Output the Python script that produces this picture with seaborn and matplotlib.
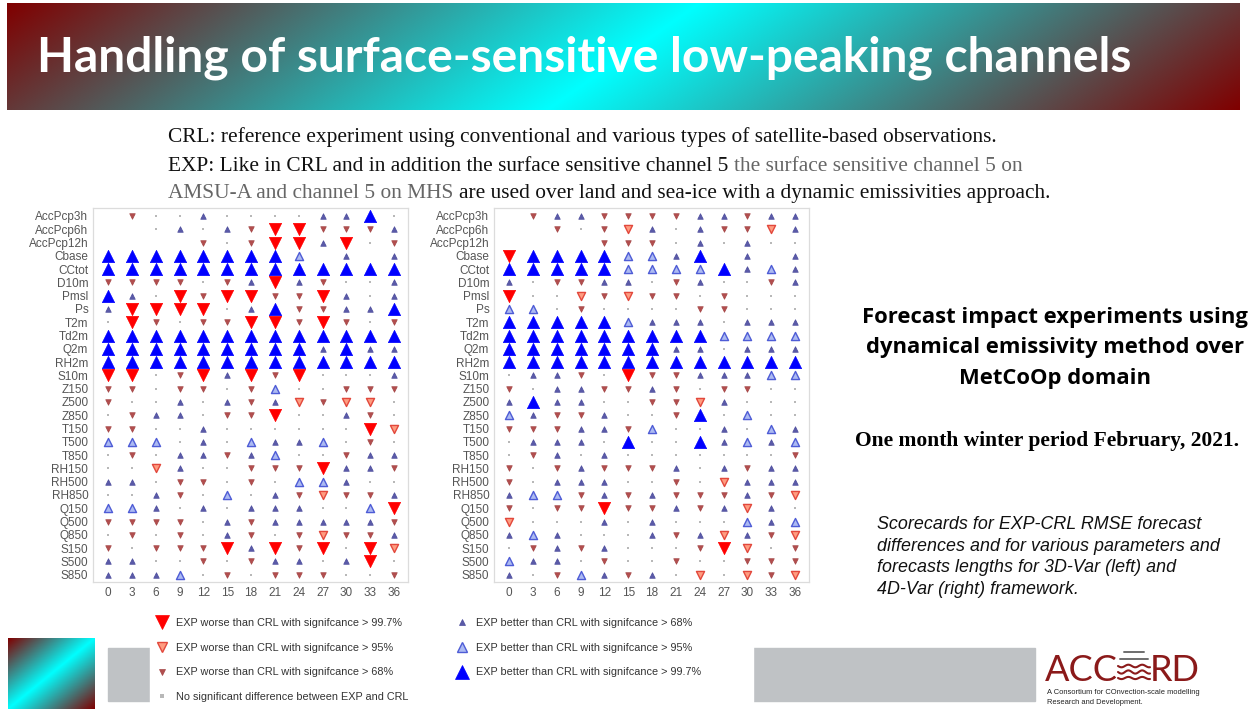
import numpy as np
import pandas as pd
import matplotlib
matplotlib.use('Agg')
import matplotlib.pyplot as plt
import seaborn as sns
from matplotlib.lines import Line2D
from matplotlib.patches import Rectangle

params = ['AccPcp3h', 'AccPcp6h', 'AccPcp12h', 'Cbase', 'CCtot', 'D10m', 'Pmsl', 'Ps',
          'T2m', 'Td2m', 'Q2m', 'RH2m', 'S10m', 'Z150', 'Z500', 'Z850', 'T150', 'T500',
          'T850', 'RH150', 'RH500', 'RH850', 'Q150', 'Q500', 'Q850', 'S150', 'S500', 'S850']
leads = [0, 3, 6, 9, 12, 15, 18, 21, 24, 27, 30, 33, 36]

N = None
# -3 worse >99.7, -2 worse >95, -1 worse >68, 0 no signif. diff, 1 better >68, 2 better >95, 3 better >99.7
scores_3dvar = [
    [N, -1, 0, 0, 1, 0, 0, 0, 0, 1, 1, 3, 0],          # AccPcp3h
    [N, N, 0, 1, 0, 1, -1, -3, -3, -1, -1, -1, 1],     # AccPcp6h
    [N, N, N, N, -1, 0, -1, -3, -3, 1, -3, 0, -1],     # AccPcp12h
    [3, 3, 3, 3, 3, 3, 3, 3, 2, N, 1, N, 1],           # Cbase
    [3, 3, 3, 3, 3, 3, 3, 3, 3, 3, 3, 3, 3],           # CCtot
    [-1, -1, -1, -1, 0, -1, 1, -3, 1, -1, 0, 0, 1],    # D10m
    [3, 1, 0, -3, -1, -3, -3, -1, -1, -3, 1, 0, 1],    # Pmsl
    [1, -3, -3, -3, -3, 0, 1, 3, -1, -1, 1, 1, 3],     # Ps
    [0, -3, -1, 0, -1, -1, -3, -3, -1, -3, -1, 0, -1], # T2m
    [3, 3, 3, 3, 3, 3, 3, 3, 3, 3, 3, 3, 3],           # Td2m
    [3, 3, 3, 3, 3, 3, 3, 3, 3, 1, 3, 1, 1],           # Q2m
    [3, 3, 3, 3, 3, 3, 3, 3, 3, 3, 3, 3, 3],           # RH2m
    [-3, -3, 0, -1, -3, 1, -3, -1, -3, 0, 0, 0, 1],    # S10m
    [-1, -1, 0, -1, -1, 0, -1, 2, 0, 0, -1, -1, -1],   # Z150
    [-1, 0, 0, 1, 0, 1, -1, 1, -2, -1, -2, -2, 0],     # Z500
    [0, -1, 1, 1, 0, -1, -1, -3, 0, 0, 1, -1, 0],      # Z850
    [-1, -1, 0, 0, 1, 0, 0, 0, 0, 0, 0, -3, -2],       # T150
    [2, 2, 2, 0, 1, 0, 2, 1, 1, 2, 0, -1, 0],          # T500
    [0, -1, 0, 1, 1, -1, 1, 2, 0, 0, -1, 1, 1],        # T850
    [0, 0, -2, 1, 0, 0, -1, -1, -1, -3, 1, 1, -1],     # RH150
    [1, 1, 0, -1, -1, 0, -1, 0, 2, 2, 1, 0, 0],        # RH500
    [0, 0, 1, -1, 0, 2, 0, 1, -1, -2, -1, -1, 1],      # RH850
    [2, 2, 1, 0, 1, 0, 1, 1, 1, 0, 0, 2, -3],          # Q150
    [-1, -1, -1, -1, 0, 1, -1, 1, 1, 1, 1, 1, -1],     # Q500
    [0, -1, 0, -1, 0, 1, -1, 0, -1, -2, -1, -1, 1],    # Q850
    [-1, 0, -1, -1, -1, -3, 1, -3, -1, -3, 0, -3, -2], # S150
    [1, 1, 0, 0, -1, 0, -1, 1, 1, 0, 1, -3, 0],        # S500
    [1, 1, 1, 2, 0, -1, 0, -1, -1, -1, 0, 0, -1],      # S850
]

scores_4dvar = [
    [N, -1, 1, 1, -1, -1, -1, -1, 1, 1, -1, 1, 1],     # AccPcp3h
    [N, N, -1, 0, -1, -2, 1, 0, 1, -1, -1, -2, 1],     # AccPcp6h
    [N, N, N, N, -1, -1, -1, 0, 1, 0, 1, 0, 0],        # AccPcp12h
    [-3, 3, 3, 3, 3, 2, 2, 1, 3, N, 1, N, 1],          # Cbase
    [3, 3, 3, 3, 3, 2, 2, 2, 2, 3, 1, 2, 1],           # CCtot
    [1, 0, -1, -1, 1, 1, 0, -1, 1, 0, 0, -1, 1],       # D10m
    [-3, 0, 0, -2, -1, -2, -1, -1, 0, -1, 0, 0, 0],    # Pmsl
    [2, 2, 0, -1, 0, 0, 0, 0, -1, -1, 0, 0, 0],        # Ps
    [3, 3, 3, 3, 3, 2, 1, 1, 1, 0, 1, 1, 1],           # T2m
    [3, 3, 3, 3, 3, 3, 3, 3, 3, 2, 2, 2, 2],           # Td2m
    [3, 3, 3, 3, 3, 3, 3, 1, 1, 0, 1, 1, 1],           # Q2m
    [3, 3, 3, 3, 3, 3, 3, 3, 3, 3, 3, 3, 3],           # RH2m
    [0, 1, 1, -1, 0, -3, -1, -1, 1, 1, 1, 2, 2],       # S10m
    [-1, 0, 1, 1, -1, -1, 1, -1, 0, -1, -1, 0, 0],     # Z150
    [1, 3, 1, 1, 0, 0, -1, -1, -2, 1, 0, 0, 0],        # Z500
    [2, 1, -1, -1, 1, 0, 0, -1, 3, 0, 2, 0, 0],        # Z850
    [-1, -1, -1, 1, 1, -1, 2, 0, 0, 1, 0, 2, 1],       # T150
    [0, 1, 1, 1, 0, 3, 0, 0, 3, 1, 2, 1, 2],           # T500
    [0, -1, 1, 0, 1, 0, 0, 0, 0, 0, 0, 0, -1],         # T850
    [-1, 0, -1, 1, -1, -1, -1, 1, 0, 1, -1, 1, 1],     # RH150
    [-1, 0, 1, 1, 1, 0, 0, -1, 0, -2, 1, 1, 1],        # RH500
    [1, 2, 2, -1, 1, -1, 1, -1, -1, -1, 1, -1, -2],    # RH850
    [-1, 0, -1, -1, -3, -1, -1, 1, -1, 1, -2, 1, 0],   # Q150
    [-2, 0, 0, 0, 1, 0, 1, 0, 0, 0, 2, 1, 2],          # Q500
    [1, 2, 1, 0, 0, 0, 1, -1, 1, -2, 1, -1, -2],       # Q850
    [0, -1, 1, -1, 1, 0, 0, 0, -1, -3, -2, 0, -1],     # S150
    [2, 1, 1, 0, -1, 0, 0, -1, 0, 0, -1, -1, -1],      # S500
    [1, 0, -1, 2, 1, -1, 1, 0, -2, 0, -2, -1, -2],     # S850
]

legend_codes = [-3, -2, -1, 0, 1, 2, 3]
legend_labels = ['EXP worse than CRL with signifcance > 99.7%',
                 'EXP worse than CRL with signifcance > 95%',
                 'EXP worse than CRL with signifcance > 68%',
                 'No significant difference between EXP and CRL',
                 'EXP better than CRL with signifcance > 68%',
                 'EXP better than CRL with signifcance > 95%',
                 'EXP better than CRL with signifcance > 99.7%']

# marker style per significance class
styles = {
    -3: dict(marker='v', s=78, fc='#ff0000', ec='#ff0000', lw=0.5, ms=10),
    -2: dict(marker='v', s=34, fc='#ff9c80', ec='#e2483c', lw=1.0, ms=7),
    -1: dict(marker='v', s=16, fc='#b24e4e', ec='#a44646', lw=0.5, ms=5),
    0: dict(marker='s', s=3, fc='#b8b8b8', ec='#b8b8b8', lw=0, ms=2.2),
    1: dict(marker='^', s=16, fc='#5a5aa8', ec='#4c4c9c', lw=0.5, ms=5),
    2: dict(marker='^', s=34, fc='#acbaf2', ec='#4e5cd6', lw=1.0, ms=7),
    3: dict(marker='^', s=78, fc='#0000ff', ec='#0000ff', lw=0.5, ms=10),
}

sns.set_style('white')
plt.rcParams['font.family'] = ['Liberation Sans', 'DejaVu Sans']

W, H = 1248, 709
fig = plt.figure(figsize=(W / 100, H / 100), dpi=100)

# background axes in pixel units for the slide decorations
bg = fig.add_axes([0, 0, 1, 1], zorder=0)
bg.axis('off')


def gradient(nx, ny, tilt):
    X, Y = np.meshgrid(np.linspace(-1, 1, nx), np.linspace(-1, 1, ny))
    t = np.clip(np.abs((X + tilt * Y) / (1 + tilt)), 0, 1)[..., None]
    red = np.array([128, 0, 0]) / 255
    cyan = np.array([0, 255, 255]) / 255
    return t * red + (1 - t) * cyan


bg.imshow(gradient(600, 60, 0.122), extent=(7, 1240, 110, 3), aspect='auto', zorder=1)
bg.imshow(gradient(100, 100, 1.0), extent=(8, 95, 709, 638), aspect='auto', zorder=1)
bg.add_patch(Rectangle((108, 648), 927, 53, color='#bfc2c5', zorder=1))
bg.add_patch(Rectangle((150, 603), 603, 106, color='white', zorder=2))
bg.set_xlim(0, W)
bg.set_ylim(H, 0)

renderer = fig.canvas.get_renderer()


def fit(t, target):
    w = t.get_window_extent(renderer).width
    t.set_fontsize(t.get_fontsize() * target / w)
    return t


def right_end(t):
    return t.get_window_extent(renderer).x1


title = bg.text(37, 71, 'Handling of surface-sensitive low-peaking channels', color='white',
                fontsize=30, fontweight='bold', family=['Lato', 'DejaVu Sans'], va='baseline', zorder=3)
fit(title, 1096)

serif = ['Liberation Serif', 'DejaVu Serif']
l1 = bg.text(168, 142, 'CRL: reference experiment using conventional and various types of satellite-based observations.',
             fontsize=14, family=serif, color='#111111', va='baseline')
fit(l1, 829)
fs = l1.get_fontsize()
gap = fs * 100 / 72 * 0.25
a = bg.text(168, 171, 'EXP: Like in CRL and in addition the surface sensitive channel 5',
            fontsize=fs, family=serif, color='#111111', va='baseline')
bg.text(right_end(a) + gap, 171, 'the surface sensitive channel 5 on',
        fontsize=fs, family=serif, color='#666666', va='baseline')
b = bg.text(168, 198, 'AMSU-A and channel 5 on MHS',
            fontsize=fs, family=serif, color='#666666', va='baseline')
bg.text(right_end(b) + gap, 198, 'are used over land and sea-ice with a dynamic emissivities approach.',
        fontsize=fs, family=serif, color='#111111', va='baseline')

# right hand text
sans_b = ['Open Sans', 'DejaVu Sans']
r1 = bg.text(1055, 323, 'Forecast impact experiments using', fontsize=15, fontweight='bold',
             family=sans_b, ha='center', va='baseline', color='black')
fit(r1, 386)
for y, s in [(353, 'dynamical emissivity method over'), (384, 'MetCoOp domain')]:
    bg.text(1055, y, s, fontsize=r1.get_fontsize(), fontweight='bold', family=sans_b,
            ha='center', va='baseline', color='black')
r2 = bg.text(1047, 446, 'One month winter period February, 2021.', fontsize=15, fontweight='bold',
             family=serif, ha='center', va='baseline', color='black')
fit(r2, 385)
cap = ['Scorecards for EXP-CRL RMSE forecast', 'differences and for various parameters and',
       'forecasts lengths for 3D-Var (left) and', '4D-Var (right) framework.']
c2 = bg.text(877, 551, cap[1], fontsize=12, style='italic', va='baseline', color='#111111')
fit(c2, 341)
for y, s in zip([529, 572, 594], [cap[0], cap[2], cap[3]]):
    bg.text(877, y, s, fontsize=c2.get_fontsize(), style='italic', va='baseline', color='#111111')

# ACCORD logo
logo_c = '#8b1a1a'
logo_font = ['Lato', 'DejaVu Sans']
bg.text(1045, 681, 'ACC', fontsize=26, family=logo_font, color=logo_c, va='baseline')
bg.text(1150, 681, 'RD', fontsize=26, family=logo_font, color=logo_c, va='baseline')
bg.plot([1124, 1144], [652, 652], color='#6e6e6e', lw=1.4)
bg.plot([1120, 1148], [659, 659], color='#6e6e6e', lw=1.4)
wx = np.linspace(1118, 1150, 40)
for yy, amp in [(666, 1.3), (672, 1.6), (678, 1.1)]:
    bg.plot(wx, yy + amp * np.sin((wx - 1118) / 2.2), color=logo_c, lw=1.5)
bg.text(1047, 694, 'A Consortium for COnvection-scale modelling', fontsize=5.4, color='#222222', va='baseline')
bg.text(1047, 704, 'Research and Development.', fontsize=5.4, color='#222222', va='baseline')


def draw_card(ax, scores):
    rows = []
    for i, p in enumerate(params):
        for j, lt in enumerate(leads):
            c = scores[i][j]
            if c is not None:
                rows.append({'lead': lt, 'row': i, 'code': c})
    df = pd.DataFrame(rows)
    for code, st in styles.items():
        sub = df[df['code'] == code]
        if len(sub) == 0:
            continue
        sns.scatterplot(data=sub, x='lead', y='row', marker=st['marker'], s=st['s'], color=st['fc'],
                        edgecolor=st['ec'], linewidth=st['lw'], legend=False, ax=ax, zorder=3)
    ax.set_xlim(-1.85, 37.7)
    ax.set_ylim(27.55, -0.6)
    ax.set_xticks(leads)
    ax.set_yticks(range(len(params)))
    ax.set_yticklabels(params)
    ax.set_xlabel('')
    ax.set_ylabel('')
    ax.tick_params(length=0, labelsize=8.5, colors='#555555', pad=3.6)
    for sp in ax.spines.values():
        sp.set_color('#dcdcdc')
        sp.set_linewidth(0.9)


top, bot = 208, 582
ax1 = fig.add_axes([93.3 / W, 1 - bot / H, (407.7 - 93.3) / W, (bot - top) / H], zorder=2)
ax2 = fig.add_axes([494.3 / W, 1 - bot / H, (808.7 - 494.3) / W, (bot - top) / H], zorder=2)
draw_card(ax1, scores_3dvar)
draw_card(ax2, scores_4dvar)

handles = [Line2D([], [], ls='none', marker=styles[c]['marker'], markersize=styles[c]['ms'],
                  markerfacecolor=styles[c]['fc'], markeredgecolor=styles[c]['ec'],
                  markeredgewidth=styles[c]['lw']) for c in legend_codes]
leg = fig.legend(handles, legend_labels, loc='upper left', bbox_to_anchor=(155 / W, 1 - 618 / H),
                 ncol=2, frameon=False, borderpad=0, borderaxespad=0, fontsize=7.8,
                 handlelength=1.2, handletextpad=0.75, labelspacing=1.36, columnspacing=4.3,
                 labelcolor='#333333')

fig.savefig('out.png', dpi=100)
